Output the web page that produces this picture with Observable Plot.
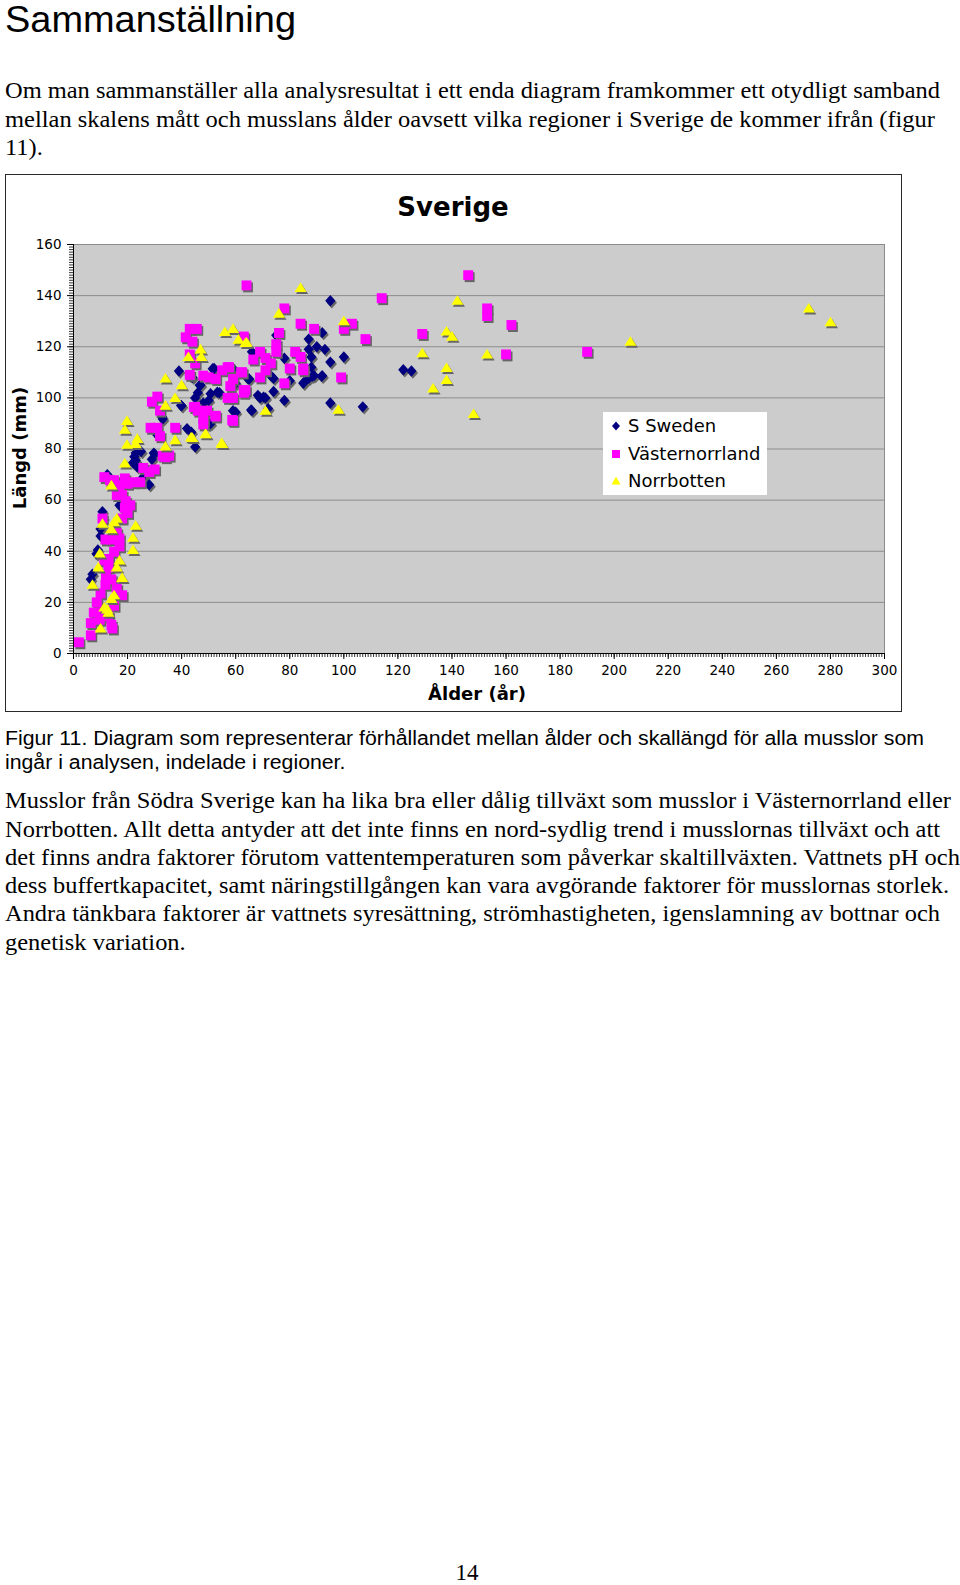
<!DOCTYPE html>
<html>
<head>
<meta charset="utf-8">
<script src="https://cdn.jsdelivr.net/npm/d3@7"></script>
<script src="https://cdn.jsdelivr.net/npm/@observablehq/plot@0.6"></script>
<style>
  html, body { margin: 0; padding: 0; background: #fff; }
  #page { position: relative; width: 960px; height: 1585px; overflow: hidden; background: #fff; color: #000; }
  .t { position: absolute; white-space: nowrap; line-height: 1; transform-origin: 0 0; }
  .serif { font-family: "Liberation Serif", "Times New Roman", serif; font-size: 23px; }
  .sans { font-family: "Liberation Sans", Arial, sans-serif; }
  #chartBox { position: absolute; left: 5px; top: 174px; width: 897px; height: 538px; box-sizing: border-box; border: 1.5px solid #2a2a2a; pointer-events: none; }
  #plotHolder { position: absolute; left: 5px; top: 174px; }
  .dv { font-family: "DejaVu Sans", Verdana, sans-serif; position: absolute; white-space: nowrap; line-height: 1; }
  #legend { position: absolute; left: 603px; top: 412px; width: 164px; height: 83px; background: #fff; }
  .lg { position: absolute; left: 0; font-family: "DejaVu Sans", Verdana, sans-serif; font-size: 18px; line-height: 1; white-space: nowrap; }
  .lg svg { position: absolute; left: 7px; top: 0; }
  .lg span { position: absolute; left: 25px; top: -9px; }
</style>
</head>
<body>
<div id="page">
  <div class="t sans fit" id="h1" style="font-size:37px;" data-w="291" data-b="32">Sammanställning</div>

  <div class="t serif fit" data-w="935" data-b="98.5" id="p1a">Om man sammanställer alla analysresultat i ett enda diagram framkommer ett otydligt samband</div>
  <div class="t serif fit" data-w="930" data-b="126.8">mellan skalens mått och musslans ålder oavsett vilka regioner i Sverige de kommer ifrån (figur</div>
  <div class="t serif fit" data-ref="p1a" data-b="155.1">11).</div>

  <div class="t sans fit" style="font-size:20px;" data-w="919" data-b="745" id="capa">Figur 11. Diagram som representerar förhållandet mellan ålder och skallängd för alla musslor som</div>
  <div class="t sans fit" style="font-size:20px;" data-ref="capa" data-b="769">ingår i analysen, indelade i regioner.</div>

  <div class="t serif fit" data-w="946" data-b="808.5" id="p2a">Musslor från Södra Sverige kan ha lika bra eller dålig tillväxt som musslor i Västernorrland eller</div>
  <div class="t serif fit" data-w="935" data-b="836.8">Norrbotten. Allt detta antyder att det inte finns en nord-sydlig trend i musslornas tillväxt och att</div>
  <div class="t serif fit" data-w="955" data-b="865.1">det finns andra faktorer förutom vattentemperaturen som påverkar skaltillväxten. Vattnets pH och</div>
  <div class="t serif fit" data-w="944" data-b="893.4">dess buffertkapacitet, samt näringstillgången kan vara avgörande faktorer för musslornas storlek.</div>
  <div class="t serif fit" data-w="935" data-b="921.7">Andra tänkbara faktorer är vattnets syresättning, strömhastigheten, igenslamning av bottnar och</div>
  <div class="t serif fit" data-ref="p2a" data-b="950">genetisk variation.</div>

  <div class="t serif" id="pgnum" style="left:455px; top:1560px;">14</div>

  <div id="plotHolder"></div>
  <div id="chartBox"></div>

  <div class="dv" id="title" style="font-size:26px; font-weight:bold; left:0; top:0;">Sverige</div>
  <div class="dv" id="xlab" style="font-size:18px; font-weight:bold;">Ålder (år)</div>
  <div class="dv" id="ylab" style="font-size:18px; font-weight:bold;">Längd (mm)</div>

  <div id="legend">
    <div class="lg" style="top:14px;"><svg width="12" height="12" viewBox="-6 -6 12 12" style="top:-6px"><path d="M0,-4.5L4,0L0,4.5L-4,0Z" fill="#000080"/></svg><span>S Sweden</span></div>
    <div class="lg" style="top:42px;"><svg width="12" height="12" viewBox="-6 -6 12 12" style="top:-6px"><rect x="-4" y="-4" width="8" height="8" fill="#ff00ff"/></svg><span>Västernorrland</span></div>
    <div class="lg" style="top:69px;"><svg width="12" height="12" viewBox="-6 -6 12 12" style="top:-6px"><path d="M0,-4.5L4.5,3.5L-4.5,3.5Z" fill="#ffff00"/></svg><span>Norrbotten</span></div>
  </div>
</div>

<script>
// ---- Data (age in years, shell length in mm) ----
const sSweden = [
  [95,138],[92,125.5],[87,123],[90,120],[93,119],[87,119],[88,116],[100,116],[95,114],[78,115.5],
  [75,124.5],[88,112],[89,108.7],[92,108.7],[87,107.6],[85,105.7],[80,106.7],[73,108.7],[74,107.6],[74,102.5],
  [72,95.8],[78,99],[95,98],[107,96.5],[122,111],[125,110.5],[66,118],[65,107.4],[69,100],[71,100],
  [66,95],[59,111.5],[60,105.7],[59,95],[60,94.4],[52,111.5],[54,102],[50,99],[48,98],[48,93.7],
  [50,89.6],[47,105],[46,102],[45,100],[44,108],[43,108.7],[39,110.5],[40,96.9],[42,88],[43.6,86.6],
  [45,80.8],[33,91.7],[31,85.5],[30,78],[29,76],[25,79],[23,78.4],[22.5,77],[22,74.6],[23.6,73],
  [28,66],[25.8,69],[12.5,70],[10.7,55.5],[10,48.7],[10,46],[9,40.5],[7,31],[6.4,29],[17,58],
  [51.5,111.4],[46.7,104.9],[53.2,102.2],[50.7,101.6],[39.8,97],[65.7,95.3],[64.5,107.5],[32.8,92.5],[50.7,89.9],[29.7,78.4],
  [68.2,101],[70.3,100.3],[88.3,108.4],[91.8,108.4],[85.2,106],[23,75.5],[11,53],[8.5,39]
];
const vasternorrland = [
  [146,148],[64,144],[114,139],[153,135],[153,132],[78,135],[103,129],[100,127],[84,129],[89,127],
  [162,128.5],[108,123],[129,125],[76,125.4],[75,121],[63,124],[190,118],[160,117],[99,108],[43,127],
  [45.6,127],[41.5,123.7],[44,122],[43,117],[45,113.5],[43,109],[48,108.7],[50,108],[52.6,107.4],[55,110.8],
  [57,112],[59,107.4],[58,104.6],[57,100],[59,100],[59,91],[62,110],[63,103],[63,102],[66.5,115],
  [69,118],[71,115.6],[73,113.5],[71,110.8],[69,108],[75,118],[80,111.5],[82,118],[84,116],[85,110.8],
  [85,111.5],[78,105.7],[45,96.5],[46,95],[48,91.7],[49.4,95],[52.6,93],[48,89.6],[37.6,88.3],[29,98.5],
  [31,100.5],[32,95],[28.5,88.3],[31,88.3],[32,85],[33,77.4],[35.4,77.4],[30,72],[28,71],[25.8,72.6],
  [24.7,67],[22,67],[20,66.4],[19,68.5],[17,65.8],[18,62],[19.3,59.6],[21,58],[20,55],[18,52.8],
  [11.4,69],[13.5,67.8],[15,67.8],[16,47.3],[17,41.9],[15,39.8],[14,44.6],[11.8,44.6],[10.7,52.8],[11.4,36.4],
  [12.9,33.7],[14,29],[16,25.5],[18,22.8],[15,18.7],[11.8,26.9],[10,23.5],[8.6,20],[7.5,16],[6.4,11.9],
  [6.4,7.1],[2,4.4],[9.7,13.2],[14,11.2],[14.4,9.8],[10.7,16],[12.9,14.6],[62.8,123.8],[57.5,112],[62.4,110],
  [63.6,103],[44.5,96.4],[52.5,92.7],[58.7,91.4],[34,76.8],[16,62],[19,57],[13,37],[12,30],[17,45]
];
const norrbotten = [
  [272,135],[280,129.6],[206,122],[153,117],[129,117.5],[142,138],[138,126],[140,124],[138,111.7],[138,107],
  [133,103.7],[148,93.7],[98,95.4],[100,130],[84,143],[76,133],[71,95],[55,82],[49,85.8],[44,84.4],
  [37.6,83.5],[34,81],[34,97],[37.6,100],[40,105],[34,107.6],[42.5,116],[47,119],[47.3,116],[56,125.8],
  [59,127],[61,122.8],[64,121.7],[23.6,84],[23,82],[19.8,81.7],[19,74.4],[19.8,91],[19,87.6],[14,65.8],
  [23,50],[22,45.3],[22,40.5],[10.7,50.8],[14,48.7],[9.7,39.2],[9.2,33.7],[7,26.9],[17,36.4],[16,33.7],
  [18,29.6],[16,52.8],[15,51.4],[11.4,18],[12.5,17.3],[14,21.4],[15,22.8],[12.9,16],[10,9.8],[48.8,85.9],
  [43.5,84.6],[54.8,82.3],[63.6,121.5]
];

const xTicks = d3.range(0, 301, 20);
const yTicks = d3.range(0, 161, 20);
const xMinor = d3.range(0, 301, 1);
const yMinor = d3.range(0, 161, 1);
const gridY = d3.range(20, 161, 20);

const toRows = (arr) => arr.map(([age, len]) => ({age, len}));

// Excel-like marker shapes
const diamondSym = { draw(ctx, size) { const r = Math.sqrt(size / Math.PI); const w = r * 0.95, h = r * 1.05; ctx.moveTo(0, -h); ctx.lineTo(w, 0); ctx.lineTo(0, h); ctx.lineTo(-w, 0); ctx.closePath(); } };
const squareSym = { draw(ctx, size) { const r = Math.sqrt(size / Math.PI); const a = r * 0.9; ctx.moveTo(-a, -a); ctx.lineTo(a, -a); ctx.lineTo(a, a); ctx.lineTo(-a, a); ctx.closePath(); } };
const triangleSym = { draw(ctx, size) { const r = Math.sqrt(size / Math.PI); ctx.moveTo(0, -r); ctx.lineTo(r * 1.1, r * 0.75); ctx.lineTo(-r * 1.1, r * 0.75); ctx.closePath(); } };

const series = [
  {rows: toRows(sSweden), sym: diamondSym, fill: "#000080", r: 5.4},
  {rows: toRows(vasternorrland), sym: squareSym, fill: "#ff00ff", r: 5.5},
  {rows: toRows(norrbotten), sym: triangleSym, fill: "#ffff00", r: 5.5}
];

const seriesMarks = series.flatMap(s => [
  Plot.dot(s.rows, {x: "age", y: "len", symbol: s.sym, r: s.r, fill: "#666666", dx: 1.5, dy: 2}),
  Plot.dot(s.rows, {x: "age", y: "len", symbol: s.sym, r: s.r, fill: s.fill})
]);

const chart = Plot.plot({
  width: 897,
  height: 538,
  marginLeft: 68,
  marginRight: 18,
  marginTop: 70,
  marginBottom: 59,
  x: {domain: [0, 300], label: null},
  y: {domain: [0, 160], label: null},
  style: {fontFamily: "DejaVu Sans, Verdana, sans-serif", fontSize: "13.5px", background: "transparent", color: "#000", overflow: "visible"},
  marks: [
    Plot.frame({fill: "#cccccc", stroke: "#8c8c8c"}),
    Plot.ruleY(gridY, {stroke: "#8c8c8c", strokeWidth: 1}),
    Plot.axisX(xMinor, {tickSize: 4, text: null, label: null, strokeWidth: 0.8}),
    Plot.axisX(xTicks, {tickSize: 6, tickPadding: 6, label: null}),
    Plot.axisY(yMinor, {tickSize: 4, text: null, label: null, strokeWidth: 0.8}),
    Plot.axisY(yTicks, {tickSize: 6, tickPadding: 6, label: null}),
    Plot.ruleX([0], {stroke: "#000"}),
    Plot.ruleY([0], {stroke: "#000"}),
    ...seriesMarks
  ]
});
document.getElementById("plotHolder").appendChild(chart);

// ---- place chart texts (page coordinates) ----
function placeCenter(el, cx, baseline, ascentRatio) {
  const r = el.getBoundingClientRect();
  const fs = parseFloat(getComputedStyle(el).fontSize);
  el.style.left = (cx - r.width / 2) + "px";
  el.style.top = (baseline - ascentRatio * fs) + "px";
}
placeCenter(document.getElementById("title"), 453, 216, 0.846);
placeCenter(document.getElementById("xlab"), 477, 700, 0.846);
(function () {
  const el = document.getElementById("ylab");
  const r = el.getBoundingClientRect();
  el.style.left = (20 - r.width / 2) + "px";
  el.style.top = (448 - r.height / 2) + "px";
  el.style.transform = "rotate(-90deg)";
  el.style.transformOrigin = "50% 50%";
})();

// ---- fit document text lines ----
const scales = {};
document.querySelectorAll(".fit").forEach(el => {
  const fs = parseFloat(getComputedStyle(el).fontSize);
  const isSerif = el.classList.contains("serif");
  const asc = isSerif ? 0.8375 : 0.8465;
  el.style.left = "5px";
  el.style.top = (parseFloat(el.dataset.b) - asc * fs) + "px";
  let s;
  if (el.dataset.w) {
    const w = el.getBoundingClientRect().width;
    s = parseFloat(el.dataset.w) / w;
    if (el.id) scales[el.id] = s;
  } else {
    s = scales[el.dataset.ref] || 1;
  }
  el.style.transform = `scaleX(${s})`;
});
(function () {
  const el = document.getElementById("pgnum");
  const fs = parseFloat(getComputedStyle(el).fontSize);
  const r = el.getBoundingClientRect();
  el.style.left = (467 - r.width / 2) + "px";
  el.style.top = (1580 - 0.8375 * fs) + "px";
})();
</script>
</body>
</html>
